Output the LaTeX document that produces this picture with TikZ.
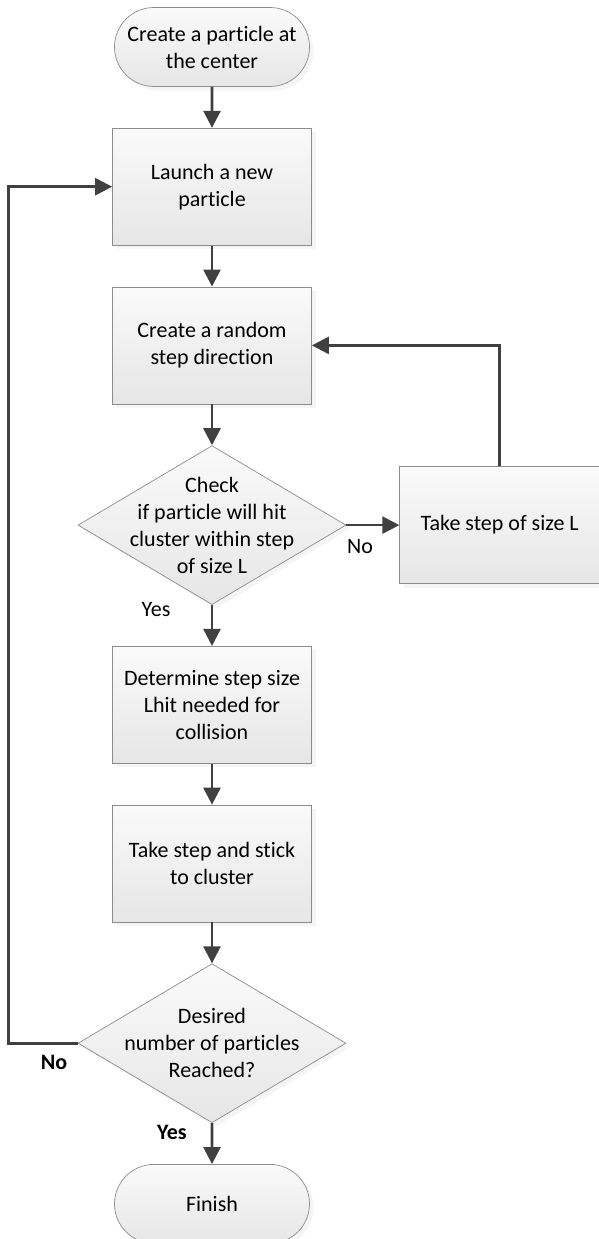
\documentclass[tikz,border=0pt]{standalone}
\usepackage{fontspec}
\setmainfont{Carlito}[Ligatures=NoCommon]
\usetikzlibrary{arrows.meta,positioning,shapes.geometric,shapes.misc,shadows}
\definecolor{edgegray}{RGB}{140,140,140}
\definecolor{flowink}{RGB}{64,64,64}
\definecolor{filltop}{RGB}{250,250,250}
\definecolor{fillbot}{RGB}{230,230,230}

\begin{document}
\begin{tikzpicture}[
  x=1pt,y=1pt,
  node distance=41pt,
  font=\fontsize{22}{27}\selectfont,
  shadebox/.style={draw=edgegray,line width=0.7pt,top color=filltop,bottom color=fillbot,
              drop shadow={shadow xshift=4pt,shadow yshift=-4pt,fill=black!8}},
  term/.style={shadebox,rounded rectangle,minimum width=199pt,minimum height=79pt,align=center,inner sep=2pt},
  stepbox/.style={shadebox,rectangle,minimum width=199pt,minimum height=117pt,align=center},
  decide/.style={shadebox,diamond,minimum width=268pt,minimum height=159pt,inner sep=0pt},
  flow/.style={-{Triangle[length=17pt,width=17pt]},draw=flowink,line width=2.6pt},
  answer/.style={text=black}
]
\useasboundingbox (0,0) rectangle (598,-1239);
\node[term] (start) at (212,-47) {Create a particle at\\the center};
\node[stepbox,below=of start] (launch) {Launch a new\\particle};
\node[stepbox,below=of launch] (direction) {Create a random\\step direction};
\node[decide,below=of direction,
      label={[align=center]center:{Check\\if particle will hit\\cluster within step\\of size L}}] (check) {};
\node[stepbox,right=53pt of check,minimum width=200pt] (takestep) {Take step of size L};
\node[stepbox,below=of check] (lhit) {Determine step size\\Lhit needed for\\collision};
\node[stepbox,below=of lhit] (stick) {Take step and stick\\to cluster};
\node[decide,below=of stick,
      label={[align=center]center:{Desired\\number of particles\\Reached?}}] (enough) {};
\node[term,below=of enough] (finish) {Finish};
% labels on the branches
\node[answer] (nocheck) at (360,-547) {No};
\node[answer] (yescheck) at (156,-610) {Yes};
\node[answer,font=\fontsize{22}{27}\selectfont\bfseries] (noenough) at (54,-1062) {No};
\node[answer,font=\fontsize{22}{27}\selectfont\bfseries] (yesenough) at (172,-1132) {Yes};
\draw[flow] (start) -- (launch);
\draw[flow] (launch) -- (direction);
\draw[flow] (direction) -- (check);
\draw[flow] (check) -- (takestep);
\draw[flow] (takestep.north) |- (direction.east);
\draw[flow] (check) -- (lhit);
\draw[flow] (lhit) -- (stick);
\draw[flow] (stick) -- (enough);
\draw[flow] (enough.west) -- ++(-69,0) |- (launch.west);
\draw[flow] (enough) -- (finish);
\end{tikzpicture}
\end{document}
